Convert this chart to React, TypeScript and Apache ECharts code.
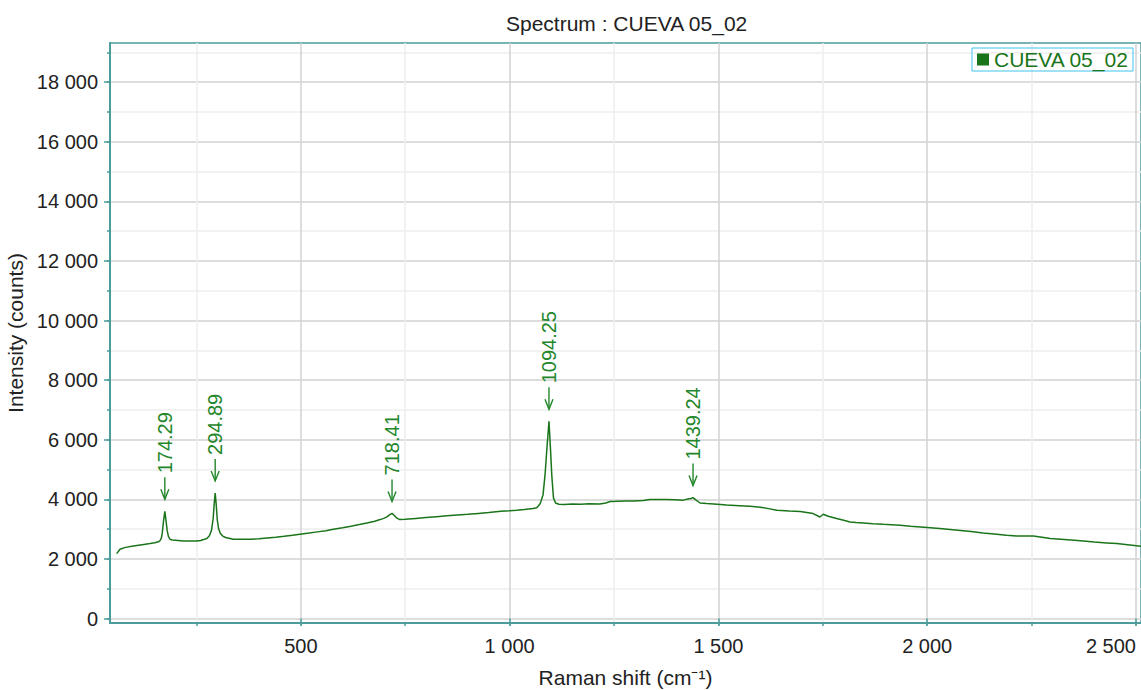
import React, { useEffect, useRef } from 'react';
import * as echarts from 'echarts';

const chartTitle = 'Spectrum : CUEVA 05_02';
const seriesName = 'CUEVA 05_02';
const xAxisName = 'Raman shift (cm⁻¹)';
const yAxisName = 'Intensity (counts)';

// Spectrum (Raman shift in cm-1, intensity in counts)
const ramanShift = [
  59, 67, 80, 99, 120, 139, 150, 159, 163, 166, 168, 171, 174.3, 177, 180, 183, 187, 192,
  200, 219, 235, 251, 260, 267, 275, 281, 286, 290, 292.5, 294.9, 297.5, 300, 303, 307, 313, 320,
  338, 360, 379, 400, 419, 440, 460, 480, 498, 520, 540, 560, 578, 600, 620, 640, 658, 675, 690, 700, 707, 713,
  718.4, 724, 730, 737, 750, 775, 800, 825, 850, 875, 900, 925, 950, 979, 1000, 1017, 1035, 1056, 1065,
  1073, 1080, 1085, 1089, 1094.25, 1098, 1101, 1105, 1110, 1118, 1130, 1150, 1170, 1190, 1216,
  1230, 1241, 1260, 1280, 1297, 1320, 1336, 1356, 1376, 1396, 1416, 1427, 1434, 1439.24, 1445, 1456, 1472,
  1497, 1520, 1550, 1576, 1600, 1620, 1640, 1670, 1696, 1727, 1743, 1751, 1763, 1783, 1800, 1815, 1830, 1847,
  1870, 1895, 1915, 1935, 1960, 2000, 2030, 2055, 2080, 2105, 2134, 2160, 2190, 2214, 2235, 2254, 2275, 2295,
  2320, 2345, 2374, 2400, 2430, 2454, 2480, 2512,
];
const intensity = [
  2181, 2325, 2390, 2436, 2480, 2517, 2545, 2575, 2620, 2700, 2850, 3250, 3600, 3300, 2950, 2750, 2660, 2640,
  2630, 2604, 2600, 2604, 2620, 2651, 2690, 2780, 2960, 3350, 3850, 4215, 3800, 3300, 3020, 2860, 2770, 2720,
  2661, 2660, 2661, 2680, 2705, 2730, 2760, 2795, 2829, 2870, 2910, 2950, 2996, 3050, 3100, 3155, 3208, 3260, 3322, 3370, 3420, 3490,
  3530, 3460, 3370, 3322, 3330, 3360, 3390, 3420, 3450, 3475, 3500, 3530, 3560, 3600, 3615, 3634, 3660, 3691, 3720,
  3850, 4150, 4850, 5650, 6620, 5650, 4800, 4050, 3880, 3835, 3830, 3845, 3840, 3850, 3845,
  3880, 3930, 3940, 3945, 3947, 3965, 3993, 3995, 3993, 3985, 3975, 4010, 4030, 4060, 3990, 3879, 3859,
  3836, 3815, 3790, 3768, 3740, 3690, 3634, 3610, 3590, 3523, 3409, 3500, 3433, 3356, 3300, 3242, 3225, 3208,
  3185, 3165, 3150, 3131, 3100, 3054, 3020, 2990, 2960, 2920, 2873, 2840, 2800, 2772, 2772, 2772, 2730, 2685,
  2660, 2635, 2604, 2570, 2540, 2517, 2480, 2426,
];

// Annotated peaks
const peakShift = [174.29, 294.89, 718.41, 1094.25, 1439.24];
const peakIntensity = [3600, 4215, 3530, 6620, 4060];
const peakLabels = ['174.29', '294.89', '718.41', '1094.25', '1439.24'];

// Tick values
const xMajorTicks = [500, 1000, 1500, 2000, 2500];
const xAllTicks = [250, 500, 750, 1000, 1250, 1500, 1750, 2000, 2250, 2500];
const yMajorTicks = [0, 2000, 4000, 6000, 8000, 10000, 12000, 14000, 16000, 18000];
const yAllTicks = [0, 1000, 2000, 3000, 4000, 5000, 6000, 7000, 8000, 9000, 10000, 11000, 12000, 13000, 14000, 15000, 16000, 17000, 18000, 19000];

const X_MIN = 43;
const X_MAX = 2512;
const Y_MIN = -148;
const Y_MAX = 19315;

const GREEN = '#1a751a';
const LABEL_GREEN = '#23862b';
const TEAL = '#4d9c9c';
const MAJOR_GRID = '#d2d2d2';
const MINOR_GRID = '#eeeeee';
const TEXT = '#222222';
const FONT = '"Liberation Sans", Arial, sans-serif';

const fmt = (v: number) => String(v).replace(/\B(?=(\d{3})+(?!\d))/g, ' ');

export default function App() {
  const ref = useRef<HTMLDivElement>(null);
  useEffect(() => {
    if (!ref.current) return;
    const chart = echarts.init(ref.current, undefined, { renderer: 'svg' });
    const lineData = ramanShift.map((x, i) => [x, intensity[i]]);
    const peakData = peakShift.map((x, i) => [x, peakIntensity[i]]);
    chart.setOption({
      animation: false,
      backgroundColor: '#ffffff',
      textStyle: { fontFamily: FONT },
      title: {
        text: chartTitle,
        left: 501,
        top: 8,
        textStyle: { fontFamily: FONT, fontSize: 21, fontWeight: 'normal', color: TEXT },
      },
      legend: {
        data: [{ name: seriesName, icon: 'rect' }],
        right: 8,
        top: 48,
        padding: [1, 4, 1, 5],
        borderColor: '#3fc4f0',
        borderWidth: 1,
        itemWidth: 12,
        itemHeight: 12,
        textStyle: { fontFamily: FONT, fontSize: 21, color: GREEN },
      },
      grid: {
        left: 110,
        right: 0,
        top: 43,
        bottom: 67,
        show: true,
        borderColor: TEAL,
        borderWidth: 1.5,
        backgroundColor: 'transparent',
        outerBoundsMode: 'none',
        containLabel: false,
      },
      xAxis: [
        {
          type: 'value',
          min: X_MIN,
          max: X_MAX,
          name: xAxisName,
          nameLocation: 'middle',
          nameGap: 44,
          nameTextStyle: { fontFamily: FONT, fontSize: 21, color: TEXT },
          axisLine: { show: true, onZero: false, lineStyle: { color: TEAL, width: 2 } },
          axisTick: { show: true, length: 3, customValues: xAllTicks, lineStyle: { color: TEAL, width: 1.5 } },
          axisLabel: {
            show: true,
            customValues: xMajorTicks,
            margin: 13,
            fontFamily: FONT,
            fontSize: 20,
            color: TEXT,
            alignMaxLabel: 'right',
            formatter: (v: number) => fmt(v),
          },
          splitLine: { show: true, lineStyle: { color: [MINOR_GRID, MAJOR_GRID], width: 1.5 } },
        },
        {
          type: 'value',
          min: X_MIN,
          max: X_MAX,
          position: 'bottom',
          axisLine: { show: false },
          axisTick: { show: true, length: 7, customValues: xMajorTicks, lineStyle: { color: TEAL, width: 1.5 } },
          axisLabel: { show: false },
          splitLine: { show: false },
        },
      ],
      yAxis: [
        {
          type: 'value',
          min: Y_MIN,
          max: Y_MAX,
          name: yAxisName,
          nameLocation: 'middle',
          nameGap: 80,
          nameTextStyle: { fontFamily: FONT, fontSize: 21, color: TEXT },
          axisLine: { show: true, onZero: false, lineStyle: { color: TEAL, width: 2 } },
          axisTick: { show: true, length: 3, customValues: yAllTicks, lineStyle: { color: TEAL, width: 1.5 } },
          axisLabel: {
            show: true,
            customValues: yMajorTicks,
            margin: 12,
            fontFamily: FONT,
            fontSize: 20,
            color: TEXT,
            formatter: (v: number) => fmt(v),
          },
          splitLine: { show: true, lineStyle: { color: [MAJOR_GRID, MINOR_GRID], width: 1.5 } },
        },
        {
          type: 'value',
          min: Y_MIN,
          max: Y_MAX,
          position: 'left',
          axisLine: { show: false },
          axisTick: { show: true, length: 6, customValues: yMajorTicks, lineStyle: { color: TEAL, width: 1.5 } },
          axisLabel: { show: false },
          splitLine: { show: false },
        },
      ],
      series: [
        {
          name: seriesName,
          type: 'line',
          xAxisIndex: 0,
          yAxisIndex: 0,
          data: lineData,
          showSymbol: false,
          symbol: 'none',
          color: GREEN,
          lineStyle: { color: GREEN, width: 1.5 },
          z: 3,
        },
        {
          name: 'peaks',
          type: 'custom',
          xAxisIndex: 0,
          yAxisIndex: 0,
          data: peakData,
          z: 4,
          renderItem: (params: any, api: any) => {
            const p = api.coord([api.value(0), api.value(1)]);
            const px = p[0];
            const tip = p[1] - 12;
            const top = tip - 22;
            const label = peakLabels[params.dataIndex];
            return {
              type: 'group',
              children: [
                {
                  type: 'line',
                  shape: { x1: px, y1: top, x2: px, y2: tip },
                  style: { stroke: LABEL_GREEN, lineWidth: 1.4 },
                },
                {
                  type: 'polyline',
                  shape: { points: [[px - 4, tip - 10], [px, tip], [px + 4, tip - 10]] },
                  style: { stroke: LABEL_GREEN, fill: 'none', lineWidth: 1.4 },
                },
                {
                  type: 'text',
                  x: px,
                  y: top - 4,
                  rotation: Math.PI / 2,
                  style: {
                    text: label,
                    fill: LABEL_GREEN,
                    font: `20px ${FONT}`,
                    align: 'left',
                    verticalAlign: 'middle',
                  },
                },
              ],
            };
          },
        },
      ],
    });
    return () => chart.dispose();
  }, []);
  return (
    <div
      ref={ref}
      style={{ position: 'fixed', left: 0, top: 0, width: 1141, height: 690, background: '#fff' }}
    />
  );
}
